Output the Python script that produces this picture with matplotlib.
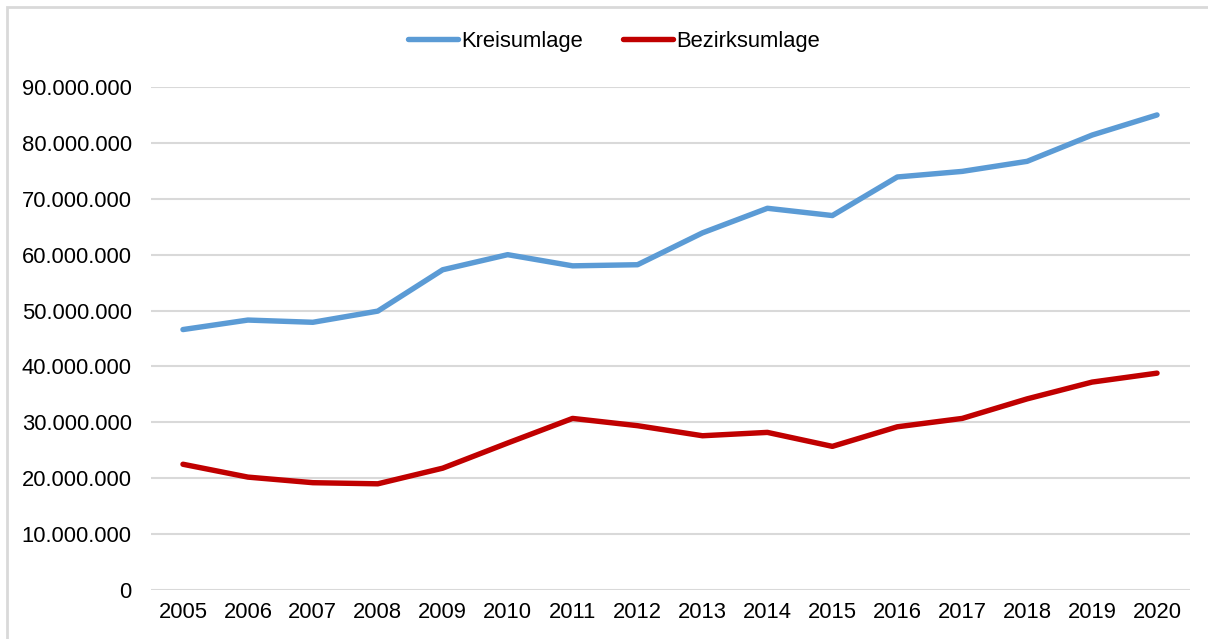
import matplotlib
matplotlib.use('Agg')
import matplotlib.pyplot as plt
from matplotlib.patches import Rectangle
from matplotlib.ticker import FuncFormatter

# ── data ───────────────────────────────────────────────────────────────────
years = ['2005', '2006', '2007', '2008', '2009', '2010', '2011', '2012',
         '2013', '2014', '2015', '2016', '2017', '2018', '2019', '2020']
kreisumlage = [46.6e6, 48.3e6, 47.9e6, 49.9e6, 57.3e6, 60.0e6, 58.0e6, 58.2e6,
               63.9e6, 68.3e6, 67.0e6, 73.9e6, 74.9e6, 76.7e6, 81.4e6, 85.0e6]
bezirksumlage = [22.5e6, 20.2e6, 19.2e6, 19.0e6, 21.8e6, 26.3e6, 30.7e6, 29.4e6,
                 27.6e6, 28.2e6, 25.7e6, 29.2e6, 30.7e6, 34.2e6, 37.2e6, 38.8e6]
yticks = [0, 10e6, 20e6, 30e6, 40e6, 50e6, 60e6, 70e6, 80e6, 90e6]

plt.rcParams['font.family'] = ['Liberation Sans', 'DejaVu Sans']
FS = 15.8

W, H = 1208, 639
fig = plt.figure(figsize=(W / 100, H / 100), dpi=100)
ax = fig.add_axes([150.5 / W, 1 - 590 / H, 1039 / W, 503 / H])

x = list(range(len(years)))
ax.plot(x, kreisumlage, color='#5B9BD5', lw=3.9, solid_capstyle='round',
        solid_joinstyle='round', label='Kreisumlage')
ax.plot(x, bezirksumlage, color='#C00000', lw=3.9, solid_capstyle='round',
        solid_joinstyle='round', label='Bezirksumlage')

ax.set_xlim(-0.5, len(years) - 0.5)
ax.set_ylim(0, 90e6)
ax.set_xticks(x)
ax.set_xticklabels(years)
ax.set_yticks(yticks)
ax.yaxis.set_major_formatter(FuncFormatter(lambda v, p: f'{v:,.0f}'.replace(',', '.')))

ax.grid(axis='y', color='#D9D9D9', lw=1.5)
ax.set_axisbelow(True)
for s in ax.spines.values():
    s.set_visible(False)
ax.tick_params(axis='both', length=0, labelsize=FS, colors='#000000')
ax.tick_params(axis='y', pad=13.5)
ax.tick_params(axis='x', pad=9)

ax.legend(loc='center', bbox_to_anchor=(614 / W, 1 - 41 / H),
          bbox_transform=fig.transFigure, ncol=2, frameon=False, fontsize=FS,
          handlelength=2.3, handletextpad=0.15, columnspacing=1.8)

# light grey chart frame (right/bottom edges run off the image)
fig.add_artist(Rectangle((7 / W, -0.1), 1.2, 1.1 - 7 / H, transform=fig.transFigure,
                         fill=False, edgecolor='#D9D9D9', lw=2))

fig.savefig('out.png', dpi=100)
